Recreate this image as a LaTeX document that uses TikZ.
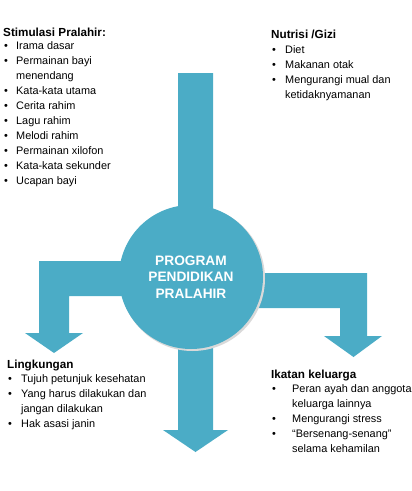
\documentclass[tikz,border=0pt]{standalone}
\usepackage{fontspec}
\setmainfont{Liberation Sans}
\usetikzlibrary{positioning}
\definecolor{aqua}{HTML}{4BACC6}
\newcommand\itm[2][13pt]{\makebox[#1][l]{\hspace{1pt}\textbullet}#2}
\newcommand\cnt[2][13pt]{\hspace*{#1}#2}
\newcommand\hd[1]{{\fontsize{11.7}{15}\selectfont\bfseries #1}}

\begin{document}
\begin{tikzpicture}[x=1pt, y=-1pt,
  barr/.style={fill=aqua, draw=none},
  blk/.style={anchor=north west, inner sep=0pt, align=left,
              font=\fontsize{10.9}{15}\selectfont, text=black},
  hub/.style={circle, fill=aqua, minimum size=144pt, inner sep=0pt, align=center,
              text=white, font=\fontsize{13.7}{16.5}\selectfont\bfseries}
]
  \useasboundingbox (0,0) rectangle (412,491);

  % block arrows
  \fill[barr] (178,73) -- (213,73) -- (213,430) -- (228,430) -- (195.5,452)
    -- (163,430) -- (178,430) -- cycle;
  \fill[barr] (39,261) -- (190,261) -- (190,296) -- (69,296) -- (69,333)
    -- (83,333) -- (54,353) -- (25,333) -- (39,333) -- cycle;
  \fill[barr] (190,273) -- (367,273) -- (367,336) -- (382,336) -- (353.5,357)
    -- (324,336) -- (340,336) -- (340,308) -- (190,308) -- cycle;

  % centre
  \fill[black!15] (192.5,278.5) circle (72.5);
  \node[hub] (prog) at (191,277) {PROGRAM\\PENDIDIKAN\\PRALAHIR};

  % texts
  \node[blk] (stim) at (3,28) {\hd{Stimulasi Pralahir:}\\[-2pt]
    \itm{Irama dasar}\\
    \itm{Permainan bayi}\\
    \cnt{menendang}\\
    \itm{Kata-kata utama}\\
    \itm{Cerita rahim}\\
    \itm{Lagu rahim}\\
    \itm{Melodi rahim}\\
    \itm{Permainan xilofon}\\
    \itm{Kata-kata sekunder}\\
    \itm{Ucapan bayi}};
  \node[blk] (gizi) at (271,30) {\hd{Nutrisi /Gizi}\\
    \itm[14pt]{Diet}\\
    \itm[14pt]{Makanan otak}\\
    \itm[14pt]{Mengurangi mual dan}\\
    \cnt[14pt]{ketidaknyamanan}};
  \node[blk] (ling) at (7,360) {\hd{Lingkungan}\\[-1pt]
    \itm[14pt]{Tujuh petunjuk kesehatan}\\
    \itm[14pt]{Yang harus dilakukan dan}\\
    \cnt[14pt]{jangan dilakukan}\\
    \itm[14pt]{Hak asasi janin}};
  \node[blk] (ikat) at (271,370) {\hd{Ikatan keluarga}\\[-1pt]
    \itm[21pt]{Peran ayah dan anggota}\\
    \cnt[21pt]{keluarga lainnya}\\
    \itm[21pt]{Mengurangi stress}\\
    \itm[21pt]{``Bersenang-senang''}\\
    \cnt[21pt]{selama kehamilan}};
\end{tikzpicture}
\end{document}
